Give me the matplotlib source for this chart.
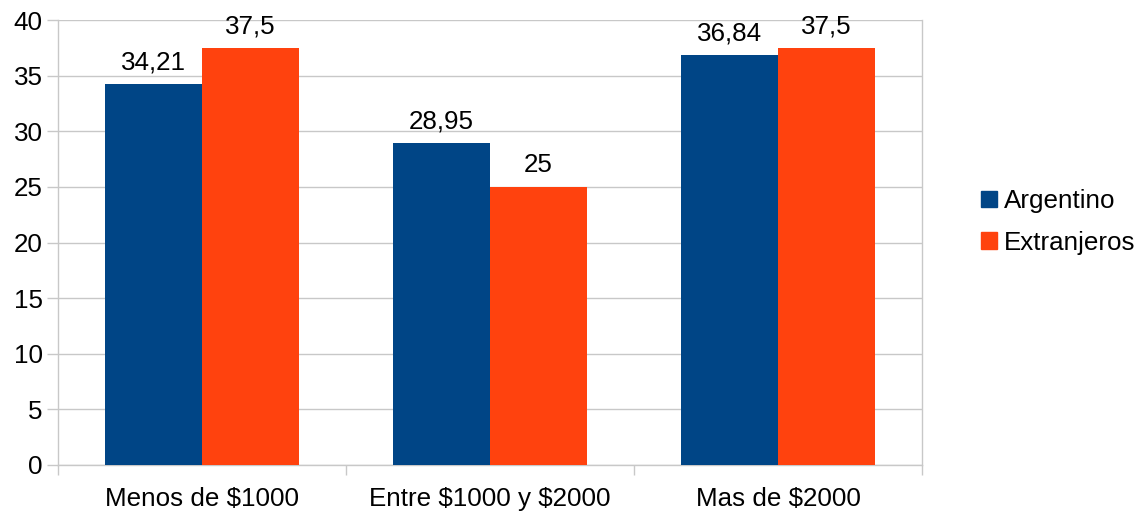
import numpy as np
import matplotlib.pyplot as plt
from matplotlib.patches import Patch

categories = ['Menos de \\$1000', 'Entre \\$1000 y \\$2000', 'Mas de \\$2000']
argentino = [34.21, 28.95, 36.84]
extranjeros = [37.5, 25, 37.5]
argentino_labels = ['34,21', '28,95', '36,84']
extranjeros_labels = ['37,5', '25', '37,5']

BLUE = '#004586'
ORANGE = '#ff420e'
GRID = '#c8c8c8'
FS = 18.7

plt.rcParams['font.family'] = ['Liberation Sans', 'DejaVu Sans']

fig = plt.figure(figsize=(11.44, 5.18), dpi=100)
ax = fig.add_axes([58 / 1144, 53 / 518, (922 - 58) / 1144, (465 - 20) / 518])

x = np.arange(len(categories))
w = 0.337
b1 = ax.bar(x - w / 2, argentino, w, color=BLUE, zorder=3)
b2 = ax.bar(x + w / 2, extranjeros, w, color=ORANGE, zorder=3)
ax.bar_label(b1, labels=argentino_labels, padding=7, fontsize=FS)
ax.bar_label(b2, labels=extranjeros_labels, padding=7, fontsize=FS)

ax.set_xlim(-0.5, len(categories) - 0.5)
ax.set_ylim(0, 40)
ax.set_yticks(range(0, 41, 5))
ax.set_xticks(x)
ax.set_xticklabels(categories)
ax.set_xticks(np.arange(-0.5, len(categories), 1), minor=True)
ax.tick_params(axis='x', which='major', length=0, pad=15.5, labelsize=FS)
ax.tick_params(axis='x', which='minor', length=7, width=1, color=GRID)
ax.tick_params(axis='y', length=8, width=1, color=GRID, pad=3, labelsize=FS)

ax.grid(axis='y', color=GRID, linewidth=1, zorder=0)
for side in ['left', 'right', 'bottom']:
    ax.spines[side].set_color(GRID)
    ax.spines[side].set_linewidth(1)
ax.spines['top'].set_visible(False)

handles = [Patch(color=BLUE, label='Argentino'), Patch(color=ORANGE, label='Extranjeros')]
fig.legend(handles=handles, loc='center left', bbox_to_anchor=(981 / 1144, 1 - 222 / 518),
           frameon=False, fontsize=FS, handlelength=0.62, handleheight=0.62,
           handletextpad=0.25, labelspacing=0.68, borderpad=0, borderaxespad=0)

fig.savefig('out.png', dpi=100)
